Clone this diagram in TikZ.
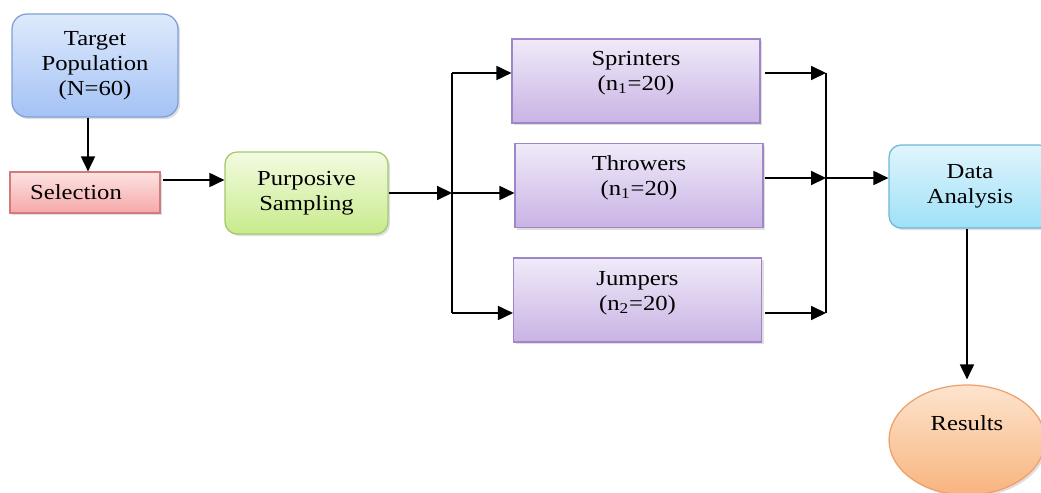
\documentclass[tikz,border=0pt]{standalone}
\usepackage{fontspec}
\setmainfont{Liberation Serif}[FakeStretch=1.15]
\usetikzlibrary{arrows.meta,shadows,calc,shapes.geometric}
\tikzset{
  arr/.style={-{Triangle[length=8.5pt,width=8pt]},line width=0.85pt,black},
  ln/.style={line width=0.85pt,black},
  shad/.style={drop shadow={opacity=0.25,shadow xshift=1.2pt,shadow yshift=-1.2pt}},
  box/.style={shad,line width=0.7pt,inner sep=0pt,align=center,font=\fontsize{12.2}{14.2}\selectfont},
  txt/.style={align=center,inner sep=0pt,font=\fontsize{12.2}{14.2}\selectfont},
}
\begin{document}
\begin{tikzpicture}[x=0.02cm,y=-0.02cm]
\useasboundingbox (0,0) rectangle (1041,493);
% nodes
\node[box,rounded corners=0.3cm,draw={rgb,255:red,126;green,159;blue,212},
  top color={rgb,255:red,222;green,234;blue,252},bottom color={rgb,255:red,164;green,194;blue,245},
  minimum width=3.32cm,minimum height=2.06cm] (tp) at (95,65.5) {Target\\Population\\(N=60)};
\node[box,draw={rgb,255:red,213;green,122;blue,122},
  top color={rgb,255:red,253;green,226;blue,226},bottom color={rgb,255:red,246;green,168;blue,168},
  minimum width=3.0cm,minimum height=0.82cm] (sel) at (85,192.5) {};
\node[txt] (selt) at (76,192) {Selection};
\node[box,rounded corners=0.24cm,draw={rgb,255:red,163;green,200;blue,106},
  top color={rgb,255:red,243;green,251;blue,225},bottom color={rgb,255:red,200;green,235;blue,140},
  minimum width=3.26cm,minimum height=1.64cm] (ps) at (306.5,193) {Purposive\\Sampling};
\tikzset{purp/.style={box,draw={rgb,255:red,159;green,134;blue,198},
  top color={rgb,255:red,240;green,234;blue,249},bottom color={rgb,255:red,201;green,179;blue,228},
  minimum width=4.96cm,minimum height=1.68cm}}
\node[purp] (spr) at (636,81) {};
\node[txt] (sprt) at (636,73) {Sprinters\\(n\textsubscript{1}=20)};
\node[purp] (thr) at (639,185.5) {};
\node[txt] (thrt) at (639,178) {Throwers\\(n\textsubscript{1}=20)};
\node[purp] (jmp) at (637.5,300) {};
\node[txt] (jmpt) at (637.5,293) {Jumpers\\(n\textsubscript{2}=20)};
\node[box,rounded corners=0.24cm,draw={rgb,255:red,111;green,183;blue,213},
  top color={rgb,255:red,224;green,245;blue,253},bottom color={rgb,255:red,159;green,224;blue,247},
  minimum width=3.24cm,minimum height=1.66cm] (da) at (970,186.5) {Data\\Analysis};
\node[shad,ellipse,draw={rgb,255:red,238;green,160;blue,106},line width=0.7pt,
  top color={rgb,255:red,253;green,228;blue,206},bottom color={rgb,255:red,248;green,180;blue,126},
  minimum width=3.12cm,minimum height=2.2cm,inner sep=0pt] (res) at (967,440) {};
\node[txt] (rest) at (967,423) {Results};
% coordinates
\coordinate (split) at (452,193);
\coordinate (b1) at (452,73);
\coordinate (b3) at (452,313);
\coordinate (j1) at (826,73);
\coordinate (j2) at (826,178);
\coordinate (j3) at (826,313);
% connectors
\draw[arr] ([xshift=-0.14cm]tp.south) -- ([xshift=-0.14cm]tp.south |- sel.north);
\draw[arr] ([xshift=0.04cm,yshift=0.25cm]sel.east) -- ([yshift=0.25cm]sel.east -| ps.west);
\draw[arr] (ps.east) -- (split);
\draw[ln] (b1) -- (b3);
\draw[arr] (b1) -- (b1 -| spr.west);
\draw[arr] (split) -- (split -| thr.west);
\draw[arr] (b3) -- (b3 -| jmp.west);
\draw[arr] ([xshift=0.08cm]spr.east |- j1) -- (j1);
\draw[arr] ([xshift=0.02cm]thr.east |- j2) -- (j2);
\draw[arr] ([xshift=0.06cm]jmp.east |- j3) -- (j3);
\draw[ln] (j1) -- (j3);
\draw[arr] (j2) -- (j2 -| da.west);
\draw[arr] (da.south -| res.north) -- ([yshift=0.1cm]res.north);
\end{tikzpicture}
\end{document}
